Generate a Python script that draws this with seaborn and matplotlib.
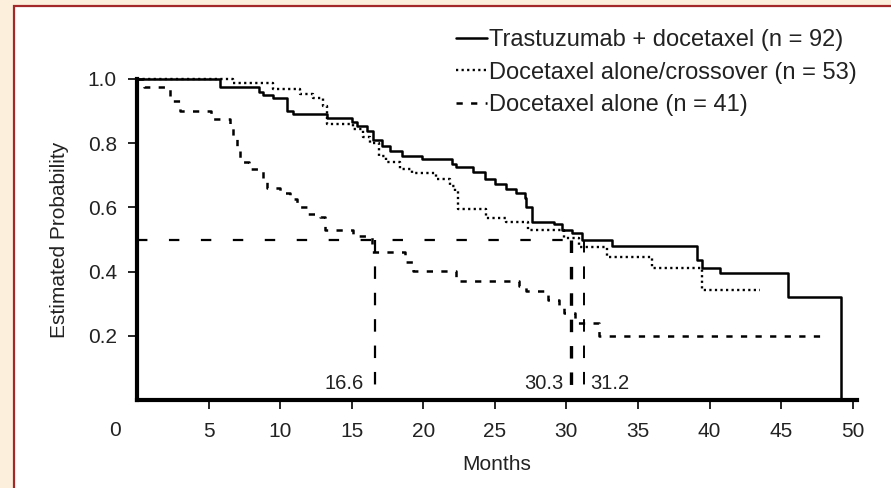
import numpy as np
import pandas as pd
import matplotlib
matplotlib.use("Agg")
import matplotlib.pyplot as plt
from matplotlib.patches import Rectangle
from matplotlib.lines import Line2D
import seaborn as sns

# ---------------- data ----------------
groups = ["Trastuzumab + docetaxel (n = 92)",
          "Docetaxel alone/crossover (n = 53)",
          "Docetaxel alone (n = 41)"]

tras_t = [0, 5.8, 8.5, 8.8, 9.5, 10.5, 10.9, 13.3, 15.0, 15.4, 16.1, 16.5, 17.1, 17.7,
          18.5, 19.9, 22.0, 22.3, 23.5, 24.3, 25.0, 25.8, 26.5, 27.1, 27.2, 27.6, 29.1,
          29.7, 30.4, 31.1, 33.2, 39.1, 39.5, 40.7, 45.5, 49.2]
tras_s = [1.0, 0.975, 0.96, 0.95, 0.94, 0.90, 0.89, 0.878, 0.866, 0.853, 0.838, 0.81, 0.79, 0.775,
          0.76, 0.75, 0.734, 0.725, 0.71, 0.688, 0.672, 0.656, 0.644, 0.63, 0.60, 0.556, 0.547,
          0.53, 0.52, 0.50, 0.48, 0.4375, 0.41, 0.396, 0.32, 0.0]

cross_t = [0, 6.7, 9.5, 11.4, 12.3, 13.0, 13.3, 15.1, 15.8, 16.3, 16.9, 17.4, 18.4, 19.2,
           20.9, 21.9, 22.2, 22.4, 24.4, 25.8, 27.3, 29.8, 30.9, 32.8, 36.0, 39.5, 43.5]
cross_s = [1.0, 0.9875, 0.97, 0.953, 0.94, 0.915, 0.86, 0.845, 0.82, 0.80, 0.76, 0.74, 0.72, 0.706,
           0.6875, 0.666, 0.65, 0.594, 0.568, 0.553, 0.531, 0.506, 0.478, 0.447, 0.41, 0.344, 0.344]

alone_t = [0, 0.5, 2.3, 3.0, 5.2, 6.5, 6.7, 7.0, 7.2, 7.8, 8.8, 9.1, 10.0, 10.7, 11.2, 11.9,
           12.8, 13.1, 15.1, 16.4, 18.7, 19.3, 22.3, 26.7, 27.2, 28.7, 29.5, 29.8, 30.6, 32.3, 48.2]
alone_s = [1.0, 0.975, 0.93, 0.90, 0.875, 0.85, 0.82, 0.79, 0.74, 0.72, 0.69, 0.66, 0.645, 0.625,
           0.60, 0.58, 0.57, 0.53, 0.51, 0.46, 0.43, 0.403, 0.372, 0.356, 0.34, 0.3125, 0.29,
           0.27, 0.24, 0.20, 0.20]

medians = [16.6, 30.3, 31.2]
median_labels = ["16.6", "30.3", "31.2"]
median_level = 0.5

x_ticks = [5, 10, 15, 20, 25, 30, 35, 40, 45, 50]
y_ticks = [0.2, 0.4, 0.6, 0.8, 1.0]

# ---------------- style ----------------
sns.set_theme(style="ticks")
plt.rcParams['font.family'] = ['Liberation Sans', 'DejaVu Sans']
plt.rcParams['lines.scale_dashes'] = False

BEIGE = "#FCEFDC"
RED = "#A3282A"
TXT = "#222222"
W, H = 891, 488

fig = plt.figure(figsize=(W / 100, H / 100), dpi=100, facecolor=BEIGE)
fig.patches.append(Rectangle((14 / W, -0.1), 1.2, 0.1 + (H - 6) / H,
                             transform=fig.transFigure, facecolor="white",
                             edgecolor=RED, lw=1.6, zorder=-5))

ax = fig.add_axes([137 / W, 88 / H, 720 / W, 321 / H])
ax.set_zorder(2)
ax.set_facecolor("white")

frames = []
for g, t, s in zip(groups, [tras_t, cross_t, alone_t], [tras_s, cross_s, alone_s]):
    frames.append(pd.DataFrame({"Months": t, "Prob": s, "Group": g}))
df = pd.concat(frames, ignore_index=True)

line_styles = {
    groups[0]: dict(linestyle="-", linewidth=1.8),
    groups[1]: dict(linestyle=(0, (1.6, 2.4)), linewidth=1.7),
    groups[2]: dict(linestyle=(0, (4.5, 6.0)), linewidth=1.8),
}

for g in groups:
    sns.lineplot(data=df[df["Group"] == g], x="Months", y="Prob", color="black",
                 drawstyle="steps-post", estimator=None, sort=False, legend=False,
                 errorbar=None, ax=ax, label=g, clip_on=False, **line_styles[g])

# median reference lines
med_dash = (0, (7.5, 15.5))
ax.plot([0, max(medians)], [median_level, median_level], color="black",
        linestyle=med_dash, linewidth=1.6)
for m, w in zip(medians, [1.6, 2.4, 1.4]):
    ax.plot([m, m], [median_level, 0.025], color="black", linestyle=(0, (9, 10)), linewidth=w)
for m, lab, dx, ha in zip(medians, median_labels, [-8, -5, 5], ["right", "right", "left"]):
    ax.annotate(lab, xy=(m, 0.052), xytext=(dx, 0), textcoords="offset points",
                ha=ha, va="center", fontsize=14.5, color=TXT)

ax.set_xlim(0, 50.3)
ax.set_ylim(0, 1.0)
ax.set_xticks(x_ticks)
ax.set_xticklabels([str(v) for v in x_ticks])
ax.set_yticks(y_ticks)
ax.set_yticklabels([f"{v:.1f}" for v in y_ticks])
ax.annotate("0", xy=(0, 0), xycoords=("data", "axes fraction"), xytext=(-16, -15),
            textcoords="offset points", ha="center", va="top", fontsize=15, color=TXT,
            annotation_clip=False)

for sp in ["top", "right"]:
    ax.spines[sp].set_visible(False)
for sp in ["left", "bottom"]:
    ax.spines[sp].set_linewidth(3.0)
    ax.spines[sp].set_color("black")
    ax.spines[sp].set_capstyle("projecting")

ax.tick_params(axis="both", direction="out", length=6.5, width=1.2, color="black",
               labelsize=15, labelcolor=TXT)
ax.tick_params(axis="x", pad=9)
ax.tick_params(axis="y", pad=8)

ax.set_xlabel("Months", fontsize=15, color=TXT)
ax.set_ylabel("Estimated Probability", fontsize=15, color=TXT)
ax.xaxis.set_label_coords(0.5, -0.17)
ax.yaxis.set_label_coords(-0.095, 0.5)
ax.xaxis.label.set_va("top")

handles = [Line2D([], [], color="black", **line_styles[g]) for g in groups]
fig.legend(handles, groups, loc="upper left", bbox_to_anchor=(456 / W, (H - 29) / H),
           frameon=False, borderpad=0, borderaxespad=0, handlelength=1.3,
           handletextpad=0.1, labelspacing=0.45, fontsize=17, labelcolor=TXT)

fig.savefig("out.png", dpi=100, facecolor=BEIGE)
